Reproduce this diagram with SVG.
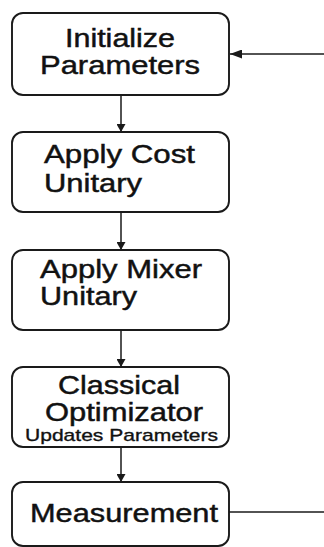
<svg xmlns="http://www.w3.org/2000/svg" width="324" height="547" viewBox="0 0 324 547">
<style>
.box{fill:#fff;stroke:#1a1a1a;stroke-width:1.9}
.t{font-family:"Liberation Sans",Arial,sans-serif;font-size:25px;fill:#111;stroke:#111;stroke-width:0.45}
.s{font-family:"Liberation Sans",Arial,sans-serif;font-size:17px;fill:#111;stroke:#111;stroke-width:0.35}
.c{stroke:#1a1a1a;stroke-width:1.5;fill:none}
</style>
<defs>
<marker id="ah" viewBox="0 0 10 10" refX="10" refY="5" markerWidth="8" markerHeight="9" markerUnits="userSpaceOnUse" orient="auto" preserveAspectRatio="none">
<path d="M0,0 L10,5 L0,10 z" fill="#1a1a1a"/>
</marker>
<marker id="ah2" viewBox="0 0 10 10" refX="10" refY="5" markerWidth="12" markerHeight="9" markerUnits="userSpaceOnUse" orient="auto" preserveAspectRatio="none">
<path d="M0,0 L10,5 L0,10 z" fill="#1a1a1a"/>
</marker>
</defs>
<rect width="324" height="547" fill="#fff"/>
<g id="connectors">
<line class="c" x1="121" y1="95" x2="121" y2="132" marker-end="url(#ah)"/>
<line class="c" x1="121" y1="212" x2="121" y2="250" marker-end="url(#ah)"/>
<line class="c" x1="121" y1="330" x2="121" y2="367" marker-end="url(#ah)"/>
<line class="c" x1="121" y1="447" x2="121" y2="482" marker-end="url(#ah)"/>
<line class="c" x1="324" y1="54" x2="230" y2="54" marker-end="url(#ah2)"/>
<line class="c" x1="229" y1="512" x2="324" y2="512"/>
</g>
<g id="n1">
<rect class="box" x="12" y="13" width="217" height="82" rx="11"/>
<text class="t" x="120" y="46.5" text-anchor="middle" textLength="110" lengthAdjust="spacingAndGlyphs">Initialize</text>
<text class="t" x="120" y="74" text-anchor="middle" textLength="160" lengthAdjust="spacingAndGlyphs">Parameters</text>
</g>
<g id="n2">
<rect class="box" x="12" y="132" width="217" height="80" rx="11"/>
<text class="t" x="44" y="163" textLength="151" lengthAdjust="spacingAndGlyphs">Apply Cost</text>
<text class="t" x="44" y="192" textLength="98" lengthAdjust="spacingAndGlyphs">Unitary</text>
</g>
<g id="n3">
<rect class="box" x="12" y="250" width="217" height="80" rx="11"/>
<text class="t" x="40" y="278" textLength="162" lengthAdjust="spacingAndGlyphs">Apply Mixer</text>
<text class="t" x="40" y="305" textLength="97" lengthAdjust="spacingAndGlyphs">Unitary</text>
</g>
<g id="n4">
<rect class="box" x="12" y="367" width="217" height="80" rx="11"/>
<text class="t" x="58" y="394" textLength="122" lengthAdjust="spacingAndGlyphs">Classical</text>
<text class="t" x="45" y="421" textLength="158" lengthAdjust="spacingAndGlyphs">Optimizator</text>
<text class="s" x="25" y="441" textLength="193" lengthAdjust="spacingAndGlyphs">Updates Parameters</text>
</g>
<g id="n5">
<rect class="box" x="12" y="482" width="217" height="64" rx="11"/>
<text class="t" x="30" y="522" textLength="188" lengthAdjust="spacingAndGlyphs">Measurement</text>
</g>
</svg>
